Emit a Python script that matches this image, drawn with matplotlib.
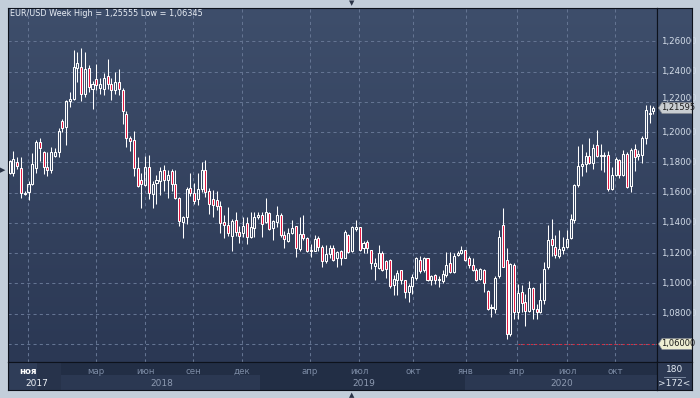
import numpy as np
import matplotlib
matplotlib.use("Agg")
import matplotlib.pyplot as plt
from matplotlib.colors import LinearSegmentedColormap
from matplotlib.patches import Rectangle, Polygon

# weekly EUR/USD candles (oldest first)
opens = [
    1.1733, 1.1733, 1.1800, 1.1762, 1.1589, 1.1607, 1.1655, 1.1766, 1.1937, 1.1871,
    1.1771, 1.1749, 1.1844, 1.1871, 1.2071, 1.2037, 1.2206, 1.2222, 1.2421, 1.2432,
    1.2255, 1.2421, 1.2288, 1.2348, 1.2293, 1.2288, 1.2370, 1.2321, 1.2277, 1.2333,
    1.2281, 1.2122, 1.1962, 1.1948, 1.1766, 1.1682, 1.1651, 1.1771, 1.1589, 1.1666,
    1.1678, 1.1749, 1.1682, 1.1741, 1.1657, 1.1565, 1.1404, 1.1441, 1.1631, 1.1595,
    1.1558, 1.1624, 1.1749, 1.1609, 1.1558, 1.1551, 1.1514, 1.1404, 1.1389, 1.1316,
    1.1422, 1.1342, 1.1331, 1.1402, 1.1305, 1.1367, 1.1437, 1.1452, 1.1404, 1.1468,
    1.1367, 1.1404, 1.1452, 1.1320, 1.1283, 1.1331, 1.1378, 1.1228, 1.1327, 1.1301,
    1.1224, 1.1217, 1.1301, 1.1239, 1.1147, 1.1195, 1.1235, 1.1165, 1.1216, 1.1171,
    1.1319, 1.1216, 1.1361, 1.1370, 1.1231, 1.1273, 1.1220, 1.1114, 1.1105, 1.1204,
    1.1149, 1.1158, 1.0988, 1.1021, 1.1087, 1.1021, 1.0944, 1.0981, 1.1039, 1.1158,
    1.1087, 1.1165, 1.1021, 1.1054, 1.1025, 1.1017, 1.1054, 1.1132, 1.1076, 1.1185,
    1.1202, 1.1220, 1.1165, 1.1120, 1.1092, 1.1032, 1.1092, 1.0948, 1.0837, 1.0831,
    1.1052, 1.1389, 1.1155, 1.0665, 1.1124, 1.0809, 1.0941, 1.0875, 1.0820, 1.0970,
    1.0831, 1.0809, 1.0890, 1.1107, 1.1294, 1.1239, 1.1184, 1.1222, 1.1239, 1.1301,
    1.1420, 1.1648, 1.1774, 1.1787, 1.1844, 1.1796, 1.1913, 1.1840, 1.1840, 1.1846,
    1.1621, 1.1714, 1.1813, 1.1714, 1.1857, 1.1641, 1.1891, 1.1842, 1.1851, 1.1961,
    1.2129, 1.2140,
]
highs = [
    1.1815, 1.1877, 1.1833, 1.1837, 1.1611, 1.1678, 1.1860, 1.1948, 1.1962, 1.1877,
    1.1866, 1.1900, 1.1895, 1.2028, 1.2086, 1.2215, 1.2266, 1.2543, 1.2526, 1.25555,
    1.2532, 1.2443, 1.2339, 1.2450, 1.2355, 1.2392, 1.2481, 1.2355, 1.2399, 1.2415,
    1.2293, 1.2139, 1.1977, 1.2006, 1.1833, 1.1733, 1.1844, 1.1849, 1.1678, 1.1718,
    1.1771, 1.1784, 1.1749, 1.1755, 1.1749, 1.1569, 1.1448, 1.1639, 1.1730, 1.1661,
    1.1727, 1.1800, 1.1815, 1.1631, 1.1617, 1.1613, 1.1547, 1.1455, 1.1503, 1.1426,
    1.1474, 1.1382, 1.1441, 1.1441, 1.1474, 1.1474, 1.1474, 1.1470, 1.1565, 1.1474,
    1.1419, 1.1514, 1.1463, 1.1349, 1.1367, 1.1419, 1.1382, 1.1437, 1.1452, 1.1305,
    1.1261, 1.1323, 1.1316, 1.1257, 1.1257, 1.1257, 1.1257, 1.1216, 1.1220, 1.1352,
    1.1330, 1.1379, 1.1419, 1.1375, 1.1282, 1.1286, 1.1224, 1.1165, 1.1251, 1.1213,
    1.1158, 1.1162, 1.1054, 1.1087, 1.1092, 1.1025, 1.0999, 1.1065, 1.1176, 1.1180,
    1.1176, 1.1171, 1.1059, 1.1061, 1.1048, 1.1087, 1.1209, 1.1209, 1.1198, 1.1216,
    1.1246, 1.1224, 1.1180, 1.1171, 1.1105, 1.1105, 1.1098, 1.0955, 1.0864, 1.1052,
    1.1354, 1.1500, 1.1235, 1.1133, 1.1133, 1.0996, 1.0992, 1.0930, 1.1018, 1.0979,
    1.0864, 1.1001, 1.1140, 1.1383, 1.1427, 1.1323, 1.1350, 1.1306, 1.1350, 1.1456,
    1.1659, 1.1906, 1.1924, 1.1869, 1.1963, 1.1924, 1.2012, 1.1924, 1.1869, 1.1875,
    1.1769, 1.1835, 1.1824, 1.1884, 1.1869, 1.1897, 1.1919, 1.1884, 1.1972, 1.2176,
    1.2178, 1.2175,
]
lows = [
    1.1722, 1.1711, 1.1755, 1.1567, 1.1584, 1.1549, 1.1651, 1.1733, 1.1811, 1.1726,
    1.1711, 1.1733, 1.1837, 1.1837, 1.1999, 1.1915, 1.2166, 1.2210, 1.2333, 1.2206,
    1.2233, 1.2266, 1.2155, 1.2277, 1.2255, 1.2244, 1.2288, 1.2215, 1.2255, 1.2244,
    1.2055, 1.1904, 1.1877, 1.1711, 1.1638, 1.1500, 1.1644, 1.1556, 1.1500, 1.1522,
    1.1584, 1.1611, 1.1567, 1.1611, 1.1558, 1.1382, 1.1301, 1.1393, 1.1580, 1.1525,
    1.1521, 1.1602, 1.1573, 1.1459, 1.1437, 1.1485, 1.1331, 1.1301, 1.1314, 1.1217,
    1.1316, 1.1265, 1.1309, 1.1261, 1.1301, 1.1309, 1.1426, 1.1305, 1.1397, 1.1353,
    1.1287, 1.1375, 1.1309, 1.1235, 1.1272, 1.1327, 1.1173, 1.1217, 1.1287, 1.1206,
    1.1177, 1.1213, 1.1217, 1.1107, 1.1133, 1.1169, 1.1151, 1.1109, 1.1120, 1.1165,
    1.1202, 1.1209, 1.1348, 1.1216, 1.1202, 1.1198, 1.1098, 1.1025, 1.1098, 1.1083,
    1.1039, 1.0972, 1.0926, 1.0922, 1.0999, 1.0906, 1.0877, 1.0933, 1.1021, 1.1070,
    1.1076, 1.1017, 1.0988, 1.0994, 1.0977, 1.1003, 1.1043, 1.1070, 1.1070, 1.1180,
    1.1193, 1.1149, 1.1105, 1.1083, 1.1017, 1.1021, 1.0944, 1.0827, 1.0776, 1.0802,
    1.1036, 1.1107, 1.06345, 1.0655, 1.0765, 1.0765, 1.0809, 1.0720, 1.0809, 1.0765,
    1.0765, 1.0802, 1.0864, 1.1096, 1.1184, 1.1169, 1.1169, 1.1195, 1.1235, 1.1294,
    1.1398, 1.1637, 1.1707, 1.1736, 1.1787, 1.1758, 1.1835, 1.1752, 1.1736, 1.1610,
    1.1619, 1.1707, 1.1698, 1.1707, 1.1632, 1.1604, 1.1743, 1.1818, 1.1796, 1.1924,
    1.2061, 1.2118,
]
closes = [
    1.1806, 1.1822, 1.1778, 1.1600, 1.1600, 1.1660, 1.1789, 1.1937, 1.1895, 1.1771,
    1.1749, 1.1866, 1.1866, 1.2006, 1.2028, 1.2206, 1.2222, 1.2428, 1.2459, 1.2255,
    1.2415, 1.2299, 1.2321, 1.2310, 1.2315, 1.2355, 1.2321, 1.2281, 1.2333, 1.2288,
    1.2137, 1.1962, 1.1944, 1.1766, 1.1644, 1.1655, 1.1771, 1.1600, 1.1660, 1.1682,
    1.1744, 1.1682, 1.1715, 1.1657, 1.1562, 1.1411, 1.1441, 1.1624, 1.1595, 1.1547,
    1.1624, 1.1749, 1.1602, 1.1525, 1.1521, 1.1514, 1.1400, 1.1389, 1.1331, 1.1415,
    1.1338, 1.1314, 1.1382, 1.1305, 1.1371, 1.1441, 1.1455, 1.1393, 1.1470, 1.1360,
    1.1411, 1.1452, 1.1320, 1.1294, 1.1334, 1.1364, 1.1232, 1.1327, 1.1301, 1.1217,
    1.1217, 1.1294, 1.1239, 1.1151, 1.1195, 1.1235, 1.1155, 1.1209, 1.1171, 1.1341,
    1.1209, 1.1370, 1.1370, 1.1224, 1.1269, 1.1231, 1.1132, 1.1132, 1.1204, 1.1092,
    1.1096, 1.0986, 1.1032, 1.1072, 1.1021, 1.0941, 1.0983, 1.1043, 1.1169, 1.1081,
    1.1165, 1.1021, 1.1050, 1.1021, 1.1032, 1.1065, 1.1120, 1.1076, 1.1180, 1.1202,
    1.1220, 1.1158, 1.1120, 1.1092, 1.1025, 1.1098, 1.1003, 1.0833, 1.0846, 1.1036,
    1.1306, 1.1107, 1.0665, 1.1129, 1.0809, 1.0935, 1.0868, 1.0820, 1.0970, 1.0831,
    1.0809, 1.0890, 1.1096, 1.1288, 1.1257, 1.1191, 1.1230, 1.1239, 1.1294, 1.1427,
    1.1652, 1.1774, 1.1787, 1.1840, 1.1796, 1.1897, 1.1840, 1.1846, 1.1846, 1.1621,
    1.1714, 1.1824, 1.1714, 1.1853, 1.1637, 1.1884, 1.1835, 1.1857, 1.1961, 1.2145,
    1.2118, 1.21595,
]

price_ticks = [1.06, 1.08, 1.10, 1.12, 1.14, 1.16, 1.18, 1.20, 1.22, 1.24, 1.26]
month_pos = [4.9, 22.9, 36.0, 48.7, 61.7, 79.8, 92.8, 107.1, 121.2, 134.8, 148.1, 160.9]
month_labels = ["ноя", "мар", "июн", "сен", "дек", "апр", "июл", "окт", "янв", "апр", "июл", "окт"]
year_pos = [7.3, 40.5, 94.1, 146.7]
year_labels = ["2017", "2018", "2019", "2020"]
year_starts = [13.6, 66.5, 121.0]
last_price = 1.21595
low_level = 1.06
title = "EUR/USD Week High = 1,25555 Low = 1,06345"

W, H = 700, 398
fig = plt.figure(figsize=(7, 3.98), dpi=100)
fig.patch.set_facecolor("#c3ceda")


def px_axes(x0, y0, x1, y1):
    return fig.add_axes([x0 / W, 1 - y1 / H, (x1 - x0) / W, (y1 - y0) / H])


XL = (-0.45, 171.97)
YL = (1.0481, 1.2820)
bg = LinearSegmentedColormap.from_list("bg", ["#2b3854", "#3e4e6b"])
grad = np.linspace(0, 1, 256).reshape(-1, 1)

ax = px_axes(8, 8, 657, 362)
axr = px_axes(657, 8, 692, 362)
axt = px_axes(8, 362, 657, 390)
axb = px_axes(657, 362, 692, 390)

for a in (ax, axr, axt, axb):
    a.set_xticks([])
    a.set_yticks([])
    for s in a.spines.values():
        s.set_color("#0d121c")
        s.set_linewidth(0.8)

# main price panel
ax.set_xlim(*XL)
ax.set_ylim(*YL)
ax.imshow(grad, aspect="auto", cmap=bg, origin="lower",
          extent=[XL[0], XL[1], YL[0], YL[1]], zorder=0)
for p in price_ticks:
    ax.axhline(p, color="#647492", lw=0.75, ls=(0, (3, 3)), zorder=1)
for m in month_pos:
    ax.axvline(m, color="#647492", lw=0.75, ls=(0, (3, 3)), zorder=1)

ax.hlines(low_level, 135.0, XL[1], color="#d8283c", lw=0.75, ls=(0, (2, 2)), zorder=2)

for i, (o, h, l, c) in enumerate(zip(opens, highs, lows, closes)):
    top, bot = max(o, c), min(o, c)
    ax.vlines(i, top, h, color="white", lw=0.75, zorder=3)
    ax.vlines(i, l, bot, color="white", lw=0.75, zorder=3)
    face = "#e3123c" if c < o else "none"
    ax.add_patch(Rectangle((i - 0.27, bot), 0.54, max(top - bot, 0.0003),
                           facecolor=face, edgecolor="white", lw=0.75, zorder=4))

fig.text(10 / W, 1 - 14 / H, title, fontsize=5.9, color="#e9eef5", va="center")

# right price scale
axr.set_xlim(0, 35)
axr.set_ylim(*YL)
axr.imshow(grad, aspect="auto", cmap=bg, origin="lower",
           extent=[0, 35, YL[0], YL[1]], zorder=0)
for p in price_ticks[1:]:
    # the 1,22000 label sits just above the last-price tag, as in the original
    yy = p + 0.0022 if abs(p - last_price) < 0.006 else p
    axr.text(4, yy, f"{p:.5f}".replace(".", ","), fontsize=6.2, color="#d5deea",
             va="center", ha="left", zorder=2)

hh = 0.0036
for val, fc in ((last_price, "#c9cdd1"), (low_level, "#eeeed2")):
    axr.add_patch(Polygon([(1.5, val), (5, val + hh), (35, val + hh), (35, val - hh), (5, val - hh)],
                          closed=True, facecolor=fc, edgecolor="#8a8f96", lw=0.5, zorder=3))
    axr.text(4.2, val, f"{val:.5f}".replace(".", ","), fontsize=6.0, color="#1b1b1b",
             va="center", ha="left", zorder=4)

# time scale
axt.set_xlim(*XL)
axt.set_ylim(0, 1)
axt.set_facecolor("#222e45")
axt.axvspan(XL[0], year_starts[0], 0, 1, color="#27334b", lw=0)
axt.axvspan(year_starts[0], year_starts[1], 0, 0.55, color="#2b3852", lw=0)
axt.axvspan(year_starts[2], XL[1], 0, 0.55, color="#2b3852", lw=0)
axt.axvspan(XL[0], 7.3, 0, 1, color="#2f3d58", lw=0)
for m, lab in zip(month_pos, month_labels):
    bold = lab == "ноя" and m < 10
    axt.text(m, 0.66, lab, fontsize=6.2, ha="center", va="center",
             color="white" if bold else "#7d8ca6", fontweight="bold" if bold else "normal")
for yp, lab in zip(year_pos, year_labels):
    axt.text(yp, 0.25, lab, fontsize=6.5, ha="center", va="center",
             color="#eef2f7" if lab == "2017" else "#8d9ab1")

# corner box
axb.set_facecolor("#2c3953")
axb.set_xlim(0, 35)
axb.set_ylim(0, 28)
axb.text(17.5, 20, "180", fontsize=6.5, color="#e2e9f2", ha="center", va="center")
axb.plot([7, 28], [13.5, 13.5], color="#8593aa", lw=0.6)
axb.text(17.5, 6.5, ">172<", fontsize=6.5, color="#e2e9f2", ha="center", va="center")

# small frame markers
fig.text(352 / W, 1 - 3 / H, "▼", fontsize=5, color="#2a3447", ha="center", va="center")
fig.text(352 / W, 1 - 395 / H, "▲", fontsize=5, color="#2a3447", ha="center", va="center")
fig.text(3 / W, 1 - 170 / H, "▶", fontsize=5, color="#2a3447", ha="center", va="center")

fig.savefig("out.png", dpi=100, facecolor=fig.get_facecolor())
